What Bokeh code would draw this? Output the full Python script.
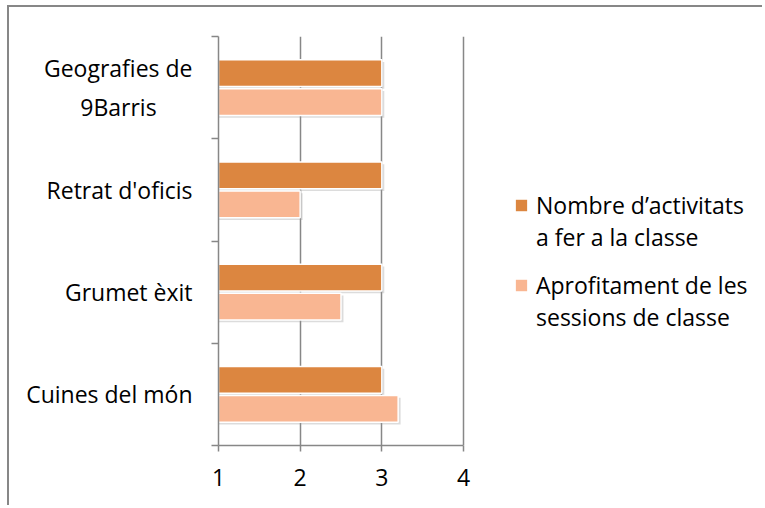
from bokeh.plotting import figure
from bokeh.models import Range1d, FixedTicker, Legend, LegendItem, ColumnDataSource
from bokeh.embed import file_html
from bokeh.resources import INLINE

categories = ["Cuines del món", "Grumet èxit", "Retrat d'oficis", "Geografies de\n9Barris"]
nombre_activitats = [3, 3, 3, 3]
aprofitament = [3.2, 2.5, 2, 3]
series_lines = [["Nombre d\u2019activitats", "a fer a la classe"],
                ["Aprofitament de les", "sessions de classe"]]
x_ticks = [1, 2, 3, 4]

DARK = "#DC8640"
LIGHT = "#F9B692"
GRID = "#878787"
FONT = "Open Sans"
FS = "23px"

W, H = 755, 500
LEFT = 209
PX_PER_UNIT = 245 / 3.0
x_end = 1 + (W - LEFT) / PX_PER_UNIT

p = figure(width=W, height=H, x_range=Range1d(1, x_end), y_range=Range1d(0, 4),
           output_backend="svg", toolbar_location=None,
           min_border_left=LEFT, min_border_right=0, min_border_top=29, min_border_bottom=62)
p.styles = {"margin-left": "7px", "margin-top": "5px",
            "border-left": "2px solid #878787", "border-top": "2px solid #878787"}
p.outline_line_color = None
p.background_fill_color = "white"
p.border_fill_color = "white"

centers = [i + 0.5 for i in range(len(categories))]
bounds = list(range(len(categories) + 1))
off = 0.142
h = 0.262
dy = 0.022
dx = 0.03

src = ColumnDataSource(dict(
    yd=[c + off for c in centers], yl=[c - off for c in centers],
    yds=[c + off - dy for c in centers], yls=[c - off - dy for c in centers],
    d=nombre_activitats, l=aprofitament,
    ds=[v + dx for v in nombre_activitats], ls=[v + dx for v in aprofitament],
))

# grid
p.xgrid.ticker = FixedTicker(ticks=x_ticks)
p.xgrid.grid_line_color = GRID
p.xgrid.grid_line_width = 1.5
p.ygrid.grid_line_color = None

# shadows
p.hbar(y="yds", left=1, right="ds", height=h, source=src, fill_color="#9a9a9a", fill_alpha=0.35, line_color=None)
p.hbar(y="yls", left=1, right="ls", height=h, source=src, fill_color="#9a9a9a", fill_alpha=0.35, line_color=None)
# bars
r1 = p.hbar(y="yd", left=1, right="d", height=h, source=src, fill_color=DARK, line_color="white", line_width=1.5)
r2 = p.hbar(y="yl", left=1, right="l", height=h, source=src, fill_color=LIGHT, line_color="white", line_width=1.5)
# invisible renderer for legend continuation lines
r0 = p.hbar(y=[], left=[], right=[], height=h, fill_alpha=0, line_alpha=0)

# x axis
xa = p.xaxis[0]
xa.ticker = FixedTicker(ticks=x_ticks)
xa.bounds = (1, 4)
xa.axis_line_color = GRID
xa.axis_line_width = 1.5
xa.major_tick_line_color = GRID
xa.major_tick_line_width = 1.5
xa.major_tick_in = 0
xa.major_tick_out = 6
xa.minor_tick_line_color = None
xa.major_label_text_font = FONT
xa.major_label_text_font_size = FS
xa.major_label_text_color = "black"
xa.major_label_standoff = 17

# y axis: labels at category centres, tick marks at category boundaries
ya = p.yaxis[0]
ya.ticker = FixedTicker(ticks=centers, minor_ticks=bounds)
ya.major_label_overrides = {c: name.replace("\n9Barris", "\n9Barris" + "\u00a0" * 6)
                            for c, name in zip(centers, categories)}
ya.axis_line_color = GRID
ya.axis_line_width = 1.5
ya.major_tick_line_color = None
ya.major_tick_in = 0
ya.major_tick_out = 0
ya.minor_tick_line_color = GRID
ya.minor_tick_line_width = 1.5
ya.minor_tick_in = 0
ya.minor_tick_out = 7
ya.major_label_standoff = 19
ya.major_label_text_font = FONT
ya.major_label_text_font_size = FS
ya.major_label_text_color = "black"

for lines, rend, loc in zip(series_lines, [r1, r2], [(295, 192), (295, 112)]):
    lg = Legend(items=[LegendItem(label=lines[0], renderers=[rend]),
                       LegendItem(label=lines[1], renderers=[r0])],
                location=loc, margin=0, padding=0, border_line_color=None,
                background_fill_alpha=0, label_text_font=FONT, label_text_font_size=FS,
                label_text_color="black", glyph_width=16, glyph_height=16, label_standoff=7,
                spacing=0, label_height=32, label_text_baseline="middle")
    p.add_layout(lg, "center")

open("out.html", "w").write(file_html(p, INLINE))
